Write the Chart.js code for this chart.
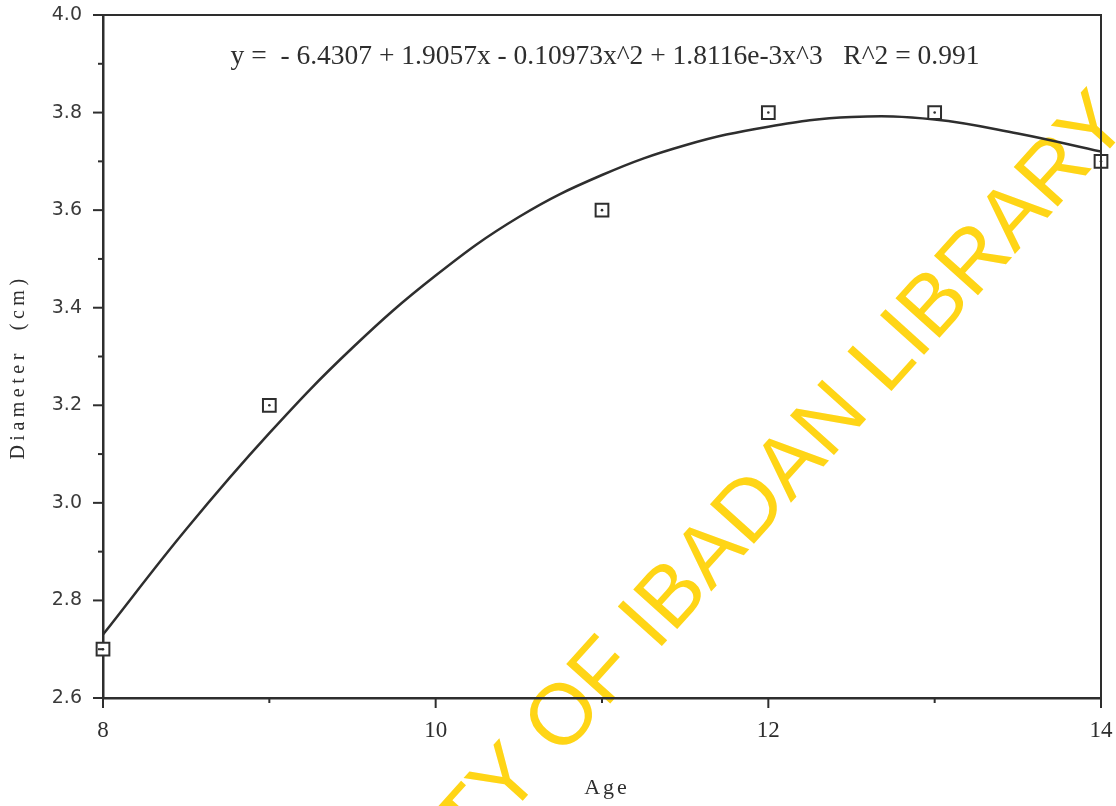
<!DOCTYPE html>
<html><head><meta charset="utf-8">
<script src="https://cdn.jsdelivr.net/npm/chart.js@4.4.1/dist/chart.umd.min.js"></script>
<style>html,body{margin:0;padding:0;background:#fff;overflow:hidden}#wrap{width:1116px;height:806px}</style>
</head><body><div id="wrap"><canvas id="c" width="1116" height="806"></canvas></div>
<script>
// ---- data ----
const ages = [8, 9, 11, 12, 13, 14];
const diameters = [2.7, 3.2, 3.6, 3.8, 3.8, 3.7];
const fitAges = [8, 8.5, 9, 9.5, 10, 10.5, 11, 11.5, 12, 12.5, 13, 13.5, 14];
const fitDiameters = [2.73, 2.946, 3.143, 3.318, 3.466, 3.586, 3.672, 3.733, 3.771, 3.791, 3.786, 3.757, 3.72];
const xTickLabels = ['8', '10', '12', '14'];
const yTickLabels = ['2.6', '2.8', '3.0', '3.2', '3.4', '3.6', '3.8', '4.0'];
const equationText = 'y =  - 6.4307 + 1.9057x - 0.10973x^2 + 1.8116e-3x^3   R^2 = 0.991';
const xTitle = 'Age';
const yTitle = 'Diameter  (cm)';
const watermarkText = 'UNIVERSITY OF IBADAN LIBRARY';

const INK = '#2e2e2e';
const SERIF = '"Liberation Serif", "DejaVu Serif", serif';

const pts = ages.map((a, i) => ({x: a, y: diameters[i]}));
const fitPts = fitAges.map((a, i) => ({x: a, y: fitDiameters[i]}));

const decor = {
  id: 'decor',
  beforeDraw(chart) {
    const ctx = chart.ctx;
    ctx.save();
    ctx.fillStyle = '#fff';
    ctx.fillRect(0, 0, chart.width, chart.height);
    // library watermark
    ctx.translate(1132, 124);
    ctx.rotate(-48 * Math.PI / 180);
    ctx.font = '86px "Liberation Sans", Arial, sans-serif';
    ctx.fillStyle = '#FFD516';
    ctx.textAlign = 'right';
    ctx.textBaseline = 'alphabetic';
    ctx.fillText(watermarkText, 0, 0);
    ctx.restore();
  },
  afterDraw(chart) {
    const {ctx, chartArea: a, scales: {x, y}} = chart;
    ctx.save();
    ctx.strokeStyle = INK;
    ctx.lineWidth = 2;
    ctx.lineCap = 'butt';
    // top and right frame
    ctx.beginPath();
    ctx.moveTo(a.left, a.top);
    ctx.lineTo(a.right, a.top);
    ctx.lineTo(a.right, a.bottom);
    ctx.stroke();
    // tick marks (major long, minor short), outward
    x.ticks.forEach(t => {
      const px = x.getPixelForValue(t.value);
      const len = t.label !== '' ? 10 : 5;
      ctx.beginPath(); ctx.moveTo(px, a.bottom); ctx.lineTo(px, a.bottom + len); ctx.stroke();
    });
    y.ticks.forEach(t => {
      const py = y.getPixelForValue(t.value);
      const len = t.label !== '' ? 10 : 5;
      ctx.beginPath(); ctx.moveTo(a.left, py); ctx.lineTo(a.left - len, py); ctx.stroke();
    });
    // equation
    ctx.fillStyle = INK;
    ctx.font = '27.5px ' + SERIF;
    ctx.textAlign = 'center';
    ctx.textBaseline = 'alphabetic';
    ctx.fillText(equationText, (a.left + a.right) / 2 + 3, a.top + 49);
    // axis titles
    ctx.letterSpacing = '3px';
    ctx.font = '22px ' + SERIF;
    ctx.textBaseline = 'middle';
    ctx.fillText(xTitle, (a.left + a.right) / 2 + 5, 788);
    ctx.translate(19, 367);
    ctx.rotate(-Math.PI / 2);
    ctx.letterSpacing = '4.5px';
    ctx.font = '20px ' + SERIF;
    ctx.fillText(yTitle, 0, 0);
    ctx.restore();
  }
};

const noEdgePadding = s => { s.paddingTop = 0; s.paddingRight = 0; s.paddingLeft = 0; s.paddingBottom = 0; };

new Chart(document.getElementById('c'), {
  type: 'scatter',
  data: {
    datasets: [
      {type: 'scatter', data: pts, pointStyle: 'circle', pointRadius: 1.3, pointHoverRadius: 1.3,
       backgroundColor: INK, borderWidth: 0, clip: false, order: 0},
      {type: 'scatter', data: pts, pointStyle: 'rect', pointRadius: 9, pointHoverRadius: 9,
       backgroundColor: '#fff', borderColor: INK, borderWidth: 2, clip: false, order: 1},
      {type: 'line', data: fitPts, borderColor: INK, borderWidth: 2.5, pointRadius: 0,
       tension: 0.4, fill: false, order: 2}
    ]
  },
  options: {
    responsive: false,
    animation: false,
    events: [],
    layout: {padding: {top: 15, right: 15, left: 0, bottom: 0}},
    plugins: {legend: {display: false}, tooltip: {enabled: false}, title: {display: false}},
    scales: {
      x: {
        type: 'linear', min: 8, max: 14,
        afterFit(s) { s.height = 108; noEdgePadding(s); },
        grid: {display: true, drawOnChartArea: false, drawTicks: false},
        border: {display: true, color: INK, width: 2.5},
        ticks: {
          stepSize: 1, autoSkip: false, maxRotation: 0, padding: 19, color: INK,
          font: {family: SERIF, size: 23},
          callback: v => xTickLabels.includes(String(v)) ? String(v) : ''
        }
      },
      y: {
        type: 'linear', min: 2.6, max: 4.0,
        afterFit(s) { s.width = 103; noEdgePadding(s); },
        grid: {display: true, drawOnChartArea: false, drawTicks: false},
        border: {display: true, color: INK, width: 2.5},
        ticks: {
          stepSize: 0.1, autoSkip: false, padding: 21, color: '#3a3a3a',
          font: {family: '"DejaVu Sans", sans-serif', size: 19},
          callback: v => { const s = Number(v).toFixed(1); return yTickLabels.includes(s) ? s : ''; }
        }
      }
    }
  },
  plugins: [decor]
});
</script>
</body></html>
